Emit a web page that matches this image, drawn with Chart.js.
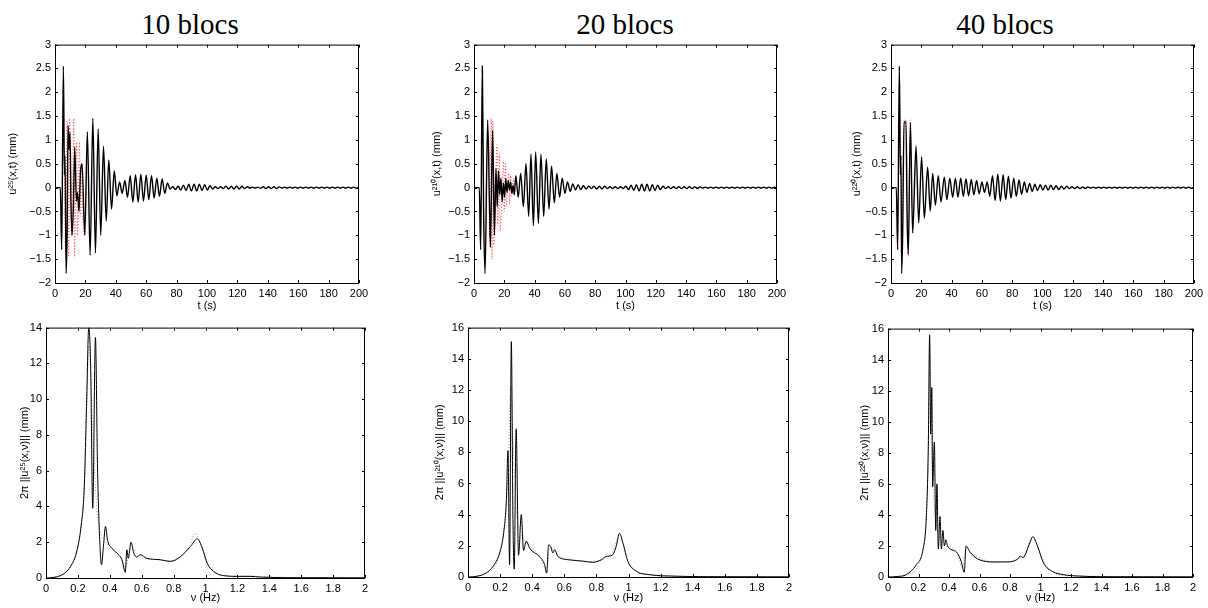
<!DOCTYPE html>
<html>
<head>
<meta charset="utf-8">
<script src="https://cdn.jsdelivr.net/npm/chart.js@4.4.1/dist/chart.umd.min.js"></script>
<style>
  body { margin:0; background:#fff; width:1208px; height:608px; overflow:hidden; position:relative; }
  canvas { position:absolute; }
  .ttl { position:absolute; font:29px "Liberation Serif", serif; transform:translate(-50%,-50%); white-space:nowrap; color:#000; }
</style>
</head>
<body>
<div class="ttl" style="left:190px;top:24px">10 blocs</div>
<div class="ttl" style="left:625px;top:24px">20 blocs</div>
<div class="ttl" style="left:1005px;top:24px">40 blocs</div>
<script>
/* ------- TIME SIGNALS (t in s, u in mm) ------- */
const head10T = [0,3.5,4.4,5.5,6.2,6.6,7.3,8.0,8.6,9.2,9.9,10.5,11.2,12.1,13.0,14.1,14.8,15.8,16.8,17.8,19.6,21.3,23.1,24.9,26.6,28.4,30.1,31.9,33.7,35.4,37.2,39.0];
const head10U = [0,0,-1.3,2.55,0.27,0.67,-1.8,-0.9,1.3,0.8,1.15,-0.3,-1.0,-0.4,0.85,-0.28,-0.1,-0.5,0.35,0.5,-1.0,1.17,-1.42,1.45,-1.37,1.23,-1.0,0.87,-0.7,0.58,-0.45,0.35];

const head20T = [0,3.5,4.4,5.5,6.3,7.3,9.0,10.3,10.8,12.3,13.5,14.5,15.3,16.2,17.0,17.8,18.6,19.4,20.2,21.0,21.8,22.6,23.4,24.2,25.0,25.8,26.6,27.6,29.2,30.8,32.6,34.3,36.1,37.6,39.2];
const head20U = [0,0,-1.3,2.55,-0.4,-1.8,1.42,-0.5,-1.25,1.2,-1.0,0.4,-0.4,0.35,-0.15,0.2,-0.3,0.1,-0.2,0.2,-0.1,0.15,-0.05,0.12,-0.12,0.05,-0.15,0.25,-0.2,0.3,-0.4,0.5,-0.6,0.7,-0.8];

const head40T = [0,3.5,4.4,5.5,6.2,6.6,7.0,7.7,8.6,9.9,10.6,11.4,12.8,14.3,16.5,18.3,20.2,22.0,24.2,25.9,27.5,29.3,31.2,33.0,35.2,36.9,38.8];
const head40U = [0,0,-1.3,2.55,0.27,0.67,-1.8,-1.0,1.38,1.38,-0.55,-1.4,1.36,-0.95,0.87,-0.74,0.65,-0.64,0.43,-0.49,0.3,-0.37,0.25,-0.3,0.22,-0.25,0.2];

const tailT = [40.7,42.5,44.2,46.0,47.7,49.5,51.2,53.0,54.7,56.5,
  58.2,60.0,61.7,63.5,65.2,67.0,68.7,70.5,72.2,74.0,
  75.7,77.5,79.2,81.0,82.7,84.5,86.2,88.0,89.7,91.5,
  93.2,95.0,96.7,98.5,100.2,102.0,103.7,105.5,107.2,109.0,
  110.7,112.5,114.2,116.0,117.7,119.5,121.2,123.0,124.7,126.5,
  128.2,130.0,131.7,133.5,135.2,137.0,138.7,140.5,142.2,144.0,
  145.7,147.5,149.2,151.0,152.7,154.5,156.2,158.0,159.7,161.5,
  163.2,165.0,166.7,168.5,170.2,172.0,173.7,175.5,177.2,179.0,
  180.7,182.5,184.2,186.0,187.7,189.5,191.2,193.0,194.7,196.5,
  198.2,200.0];
const tail10 = [-0.17,0.12,-0.12,0.15,-0.2,0.25,-0.3,0.27,-0.3,0.28,
  -0.28,0.26,-0.25,0.25,-0.22,0.2,-0.18,0.18,-0.12,0.1,
  -0.03,0.02,-0.04,0.03,-0.05,0.05,-0.06,0.07,-0.07,0.07,
  -0.07,0.07,-0.06,0.06,-0.05,0.04,-0.03,0.02,-0.02,0.02,
  -0.02,0.03,-0.03,0.03,-0.03,0.03,-0.03,0.03,-0.02,0.02,
  -0.01,0.01,-0.01,0.01,-0.015,0.02,-0.02,0.02,-0.02,0.02,
  -0.02,0.015,-0.01,0.01,-0.01,0.01,-0.01,0.01,-0.01,0.01,
  -0.01,0.01,-0.01,0.01,-0.01,0.01,-0.01,0.01,-0.01,0.01,
  -0.01,0.01,-0.01,0.01,-0.01,0.01,-0.01,0.01,-0.01,0.01,
  -0.01,0.01];
const tail20 = [0.75,-0.75,0.7,-0.6,0.6,-0.45,0.45,-0.32,0.3,-0.2,
  0.2,-0.12,0.12,-0.08,0.08,-0.05,0.06,-0.04,0.04,-0.03,
  0.03,-0.02,0.03,-0.03,0.03,-0.03,0.03,-0.02,0.02,-0.02,
  0.02,-0.02,0.02,-0.02,0.03,-0.04,0.05,-0.06,0.06,-0.07,
  0.07,-0.07,0.07,-0.07,0.06,-0.06,0.05,-0.04,0.03,-0.02,
  0.02,-0.02,0.02,-0.02,0.02,-0.02,0.02,-0.02,0.02,-0.02,
  0.015,-0.015,0.015,-0.01,0.01,-0.01,0.01,-0.01,0.01,-0.01,
  0.01,-0.01,0.01,-0.01,0.01,-0.01,0.01,-0.01,0.01,-0.01,
  0.01,-0.01,0.01,-0.01,0.01,-0.01,0.01,-0.01,0.01,-0.01,
  0.01,-0.01];
const tail40 = [-0.2,0.2,-0.2,0.2,-0.18,0.18,-0.17,0.17,-0.15,0.15,
  -0.13,0.12,-0.1,0.12,-0.18,0.25,-0.27,0.28,-0.28,0.27,
  -0.25,0.24,-0.22,0.2,-0.18,0.16,-0.14,0.12,-0.1,0.09,
  -0.08,0.07,-0.06,0.06,-0.05,0.05,-0.05,0.05,-0.04,0.04,
  -0.04,0.03,-0.03,0.03,-0.02,0.02,-0.02,0.02,-0.02,0.015,
  -0.015,0.015,-0.01,0.01,-0.01,0.01,-0.01,0.01,-0.01,0.01,
  -0.01,0.01,-0.01,0.01,-0.01,0.01,-0.01,0.01,-0.01,0.01,
  -0.01,0.01,-0.01,0.01,-0.01,0.01,-0.01,0.01,-0.01,0.01,
  -0.01,0.01,-0.01,0.01,-0.01,0.01,-0.01,0.01,-0.01,0.01,
  -0.01,0.01];

// red dotted reference signals (only where they leave the black curve)
const red10T = [0,3.5,4.4,5.5,7.0,8.0,9.0,9.6,11.0,12.4,12.8,14.2,14.8,16.2,16.6,17.6,18.2,19.6,21.3];
const red10U = [0,0,-1.2,2.3,-1.45,1.4,-1.45,1.45,-1.0,1.45,-1.47,0.95,-1.0,0.95,-0.6,0.5,-0.5,-1.0,1.17];
const red20T = [0,3.5,4.4,5.5,7.0,8.5,9.9,10.2,11.4,11.8,12.5,13.0,15.2,15.6,16.8,17.2,19.6,20.0,20.8,21.2,23.0,23.4,24.2,24.6,26.3,26.7,27.6];
const red20U = [0,0,-1.2,2.3,-1.5,0.5,1.0,-1.0,1.45,-1.5,1.4,-1.2,0.9,-0.8,0.7,-0.9,0.55,-0.5,0.5,-0.4,0.3,-0.35,0.25,-0.2,0.2,-0.15,0.25];
const red40T = [0,3.5,4.4,5.5,6.4,7.2,8.6,9.9,11.4,12.8,14.3,16.5];
const red40U = [0,0,-1.3,2.5,0.75,-1.45,1.42,1.42,-1.45,1.42,-0.95,0.9];

/* ------- SPECTRA (nu in Hz, amplitude in mm) ------- */
const spec10F = [0,0.05,0.09,0.13,0.16,0.19,0.22,0.24,0.255,0.268,0.28,0.293,0.31,0.323,0.335,0.348,0.36,0.373,0.386,0.413,0.445,0.476,0.497,0.507,0.516,0.533,0.55,0.57,0.59,0.633,0.717,0.78,0.843,0.906,0.948,0.98,1.01,1.05,1.115,1.2,1.28,1.35,1.5,2.0];
const spec10A = [0,0.03,0.13,0.37,0.74,1.39,2.9,5.1,9.9,14.0,11.8,3.9,13.45,6.2,2.5,0.74,1.76,2.88,2.1,1.67,1.39,1.02,0.32,1.58,1.1,2.0,1.4,1.17,1.3,1.1,1.02,0.93,1.2,1.76,2.19,1.67,0.83,0.37,0.13,0.09,0.09,0.05,0.02,0.01];
const ref10F = [0,0.13,0.19,0.22,0.24,0.255,0.27,0.29,0.31,0.33,0.36,0.38,0.42,0.47,0.5,0.52,0.54,0.58,0.7,0.8,0.9,0.935,0.97,1.02,1.1,1.2,1.27,1.35,1.5,2.0];
const ref10A = [0,0.37,1.4,2.9,5.1,9.5,13.0,9.0,5.0,3.0,2.2,1.95,1.6,1.1,0.6,1.4,1.7,1.2,1.02,0.95,1.8,2.5,1.9,0.8,0.15,0.1,0.12,0.08,0.03,0.01];

const spec20F = [0,0.052,0.114,0.156,0.197,0.222,0.239,0.249,0.259,0.27,0.28,0.288,0.3,0.315,0.332,0.346,0.363,0.384,0.446,0.477,0.49,0.502,0.515,0.529,0.54,0.56,0.633,0.716,0.778,0.83,0.861,0.9,0.923,0.944,0.965,0.996,1.05,1.13,1.3,1.5,2.0];
const spec20A = [0,0.04,0.26,0.68,1.54,2.8,4.9,8.1,0.8,15.1,3.7,0.5,9.5,1.4,4.0,1.7,2.3,1.85,1.3,0.8,0.25,2.05,1.96,1.54,1.75,1.32,1.1,1.02,0.94,1.1,1.32,1.4,1.96,2.8,2.2,1.0,0.36,0.15,0.05,0.02,0.01];
const ref20F = [0,0.114,0.197,0.239,0.255,0.265,0.28,0.3,0.33,0.36,0.4,0.45,0.49,0.51,0.54,0.6,0.75,0.85,0.9,0.94,0.97,1.0,1.05,1.13,1.3,2.0];
const ref20A = [0,0.26,1.54,4.9,8.5,12.3,9.0,4.5,2.8,2.3,1.85,1.3,0.4,1.9,1.6,1.2,1.0,1.15,1.6,2.5,2.0,1.0,0.36,0.15,0.05,0.01];

const spec40F = [0,0.06,0.12,0.186,0.23,0.251,0.264,0.273,0.28,0.287,0.293,0.304,0.313,0.321,0.33,0.341,0.35,0.36,0.37,0.38,0.39,0.45,0.48,0.5,0.512,0.538,0.59,0.7,0.787,0.85,0.868,0.885,0.93,0.95,0.98,1.02,1.08,1.15,1.25,1.4,2.0];
const spec40A = [0,0.03,0.15,0.8,1.8,3.8,8.2,15.6,9.2,12.2,5.8,8.7,3.0,6.0,1.8,3.9,1.8,3.0,2.0,2.4,2.0,1.6,1.0,0.3,2.0,1.6,1.15,0.97,0.97,1.15,1.35,1.25,2.2,2.6,2.0,0.9,0.35,0.15,0.06,0.02,0.01];
const ref40F = [0,0.12,0.23,0.251,0.264,0.273,0.29,0.31,0.34,0.38,0.45,0.49,0.51,0.54,0.7,0.85,0.9,0.945,0.98,1.05,1.2,2.0];
const ref40A = [0,0.15,1.8,3.8,8.2,15.0,7.0,4.0,2.5,2.1,1.6,0.6,1.9,1.6,0.97,1.15,1.5,2.6,2.0,0.5,0.08,0.01];

/* ------- HELPERS ------- */
const pts = (xs, ys) => xs.map((x, i) => ({x, y: ys[i]}));
const fmt = v => String(+(+v).toFixed(2)).replace('-', '\u2212');
const font = {family: '"Liberation Sans", Arial, sans-serif', size: 11};

const black = (d, w) => ({data: d, borderColor: '#000', borderWidth: w});
const dotted = (d, c) => ({data: d, borderColor: c, borderWidth: 1, borderDash: [1, 2]});

// box round the axes with inward ticks on all four sides (MATLAB style)
const boxTicks = {
  id: 'boxTicks',
  afterDatasetsDraw(chart){
    const {ctx, chartArea: a, scales: {x, y}} = chart;
    ctx.save();
    ctx.strokeStyle = '#000';
    ctx.lineWidth = 1;
    ctx.beginPath();
    x.ticks.forEach(t=>{
      const px = Math.round(x.getPixelForValue(t.value)) + 0.5;
      ctx.moveTo(px, a.bottom); ctx.lineTo(px, a.bottom - 3);
      ctx.moveTo(px, a.top); ctx.lineTo(px, a.top + 3);
    });
    y.ticks.forEach(t=>{
      const py = Math.round(y.getPixelForValue(t.value)) + 0.5;
      ctx.moveTo(a.left, py); ctx.lineTo(a.left + 3, py);
      ctx.moveTo(a.right, py); ctx.lineTo(a.right - 3, py);
    });
    ctx.stroke();
    ctx.strokeRect(a.left + 0.5, a.top + 0.5, a.right - a.left - 1, a.bottom - a.top);
    ctx.restore();
  }
};

/* ------- PANELS ------- */
function panel(p){
  const [l, t, r, b] = p.plot;
  const cl = Math.round(p.yTitleX - 8.6), ct = t - 10;
  const W = l - cl, H = Math.round(p.xTitleY - b + 8.6);
  const cv = document.createElement('canvas');
  cv.width = r + 16 - cl;
  cv.height = b + H - ct;
  cv.style.left = cl + 'px';
  cv.style.top = ct + 'px';
  document.body.appendChild(cv);

  new Chart(cv, {
    type: 'line',
    data: {datasets: p.sets},
    options: {
      responsive: false, animation: false, devicePixelRatio: 1,
      layout: {padding: {left: 0, top: 10, right: 16, bottom: 0}},
      plugins: {legend: {display: false}, tooltip: {enabled: false}},
      elements: {point: {radius: 0}, line: {cubicInterpolationMode: 'monotone', borderJoinStyle: 'round'}},
      scales: {
        x: {
          type: 'linear', min: p.x[0], max: p.x[1],
          afterFit: s => { s.height = H; },
          grid: {display: false, drawTicks: false}, border: {display: false},
          ticks: {stepSize: p.x[2], autoSkip: false, maxRotation: 0, padding: 4, color: '#000', font, callback: fmt},
          title: {display: true, text: p.xTitle, color: '#000', font, padding: {top: 0, bottom: 2}}
        },
        y: {
          type: 'linear', min: p.y[0], max: p.y[1],
          afterFit: s => { s.width = W; },
          grid: {display: false, drawTicks: false}, border: {display: false},
          ticks: {stepSize: p.y[2], autoSkip: false, padding: 4, color: '#000', font, callback: fmt},
          title: {display: true, text: p.yTitle, color: '#000', font, padding: {top: 2, bottom: 0}}
        }
      }
    },
    plugins: [boxTicks]
  });
}

const T = [0, 200, 20], Y = [-2, 3, 0.5], F = [0, 2, 0.2];
const panels = [
  {plot: [55, 44, 359, 283], yTitleX: 13, xTitleY: 306, x: T, y: Y, xTitle: 't (s)', yTitle: 'u\u00b2\u2075(x,t) (mm)',
   sets: [black(pts(head10T.concat(tailT), head10U.concat(tail10)), 1.4), dotted(pts(red10T, red10U), '#f44')]},
  {plot: [474, 44, 777, 283], yTitleX: 437, xTitleY: 306, x: T, y: Y, xTitle: 't (s)', yTitle: 'u\u00b2\u00b9\u2070(x,t) (mm)',
   sets: [black(pts(head20T.concat(tailT), head20U.concat(tail20)), 1.4), dotted(pts(red20T, red20U), '#f44')]},
  {plot: [891, 44, 1194, 283], yTitleX: 857, xTitleY: 306, x: T, y: Y, xTitle: 't (s)', yTitle: 'u\u00b2\u00b2\u2070(x,t) (mm)',
   sets: [black(pts(head40T.concat(tailT), head40U.concat(tail40)), 1.4), dotted(pts(red40T, red40U), '#f44')]},
  {plot: [46, 327, 365, 578], yTitleX: 25, xTitleY: 598, x: F, y: [0, 14, 2], xTitle: '\u03bd (Hz)', yTitle: '2\u03c0 ||u\u00b2\u2075(x,\u03bd)|| (mm)',
   sets: [black(pts(spec10F, spec10A), 1), dotted(pts(ref10F, ref10A), '#999')]},
  {plot: [468, 327, 789, 577], yTitleX: 440, xTitleY: 598, x: F, y: [0, 16, 2], xTitle: '\u03bd (Hz)', yTitle: '2\u03c0 ||u\u00b2\u00b9\u2070(x,\u03bd)|| (mm)',
   sets: [black(pts(spec20F, spec20A), 1), dotted(pts(ref20F, ref20A), '#999')]},
  {plot: [888, 328, 1193, 577], yTitleX: 865, xTitleY: 598, x: F, y: [0, 16, 2], xTitle: '\u03bd (Hz)', yTitle: '2\u03c0 ||u\u00b2\u00b2\u2070(x,\u03bd)|| (mm)',
   sets: [black(pts(spec40F, spec40A), 1), dotted(pts(ref40F, ref40A), '#999')]}
];

panels.forEach(panel);
</script>
</body>
</html>
